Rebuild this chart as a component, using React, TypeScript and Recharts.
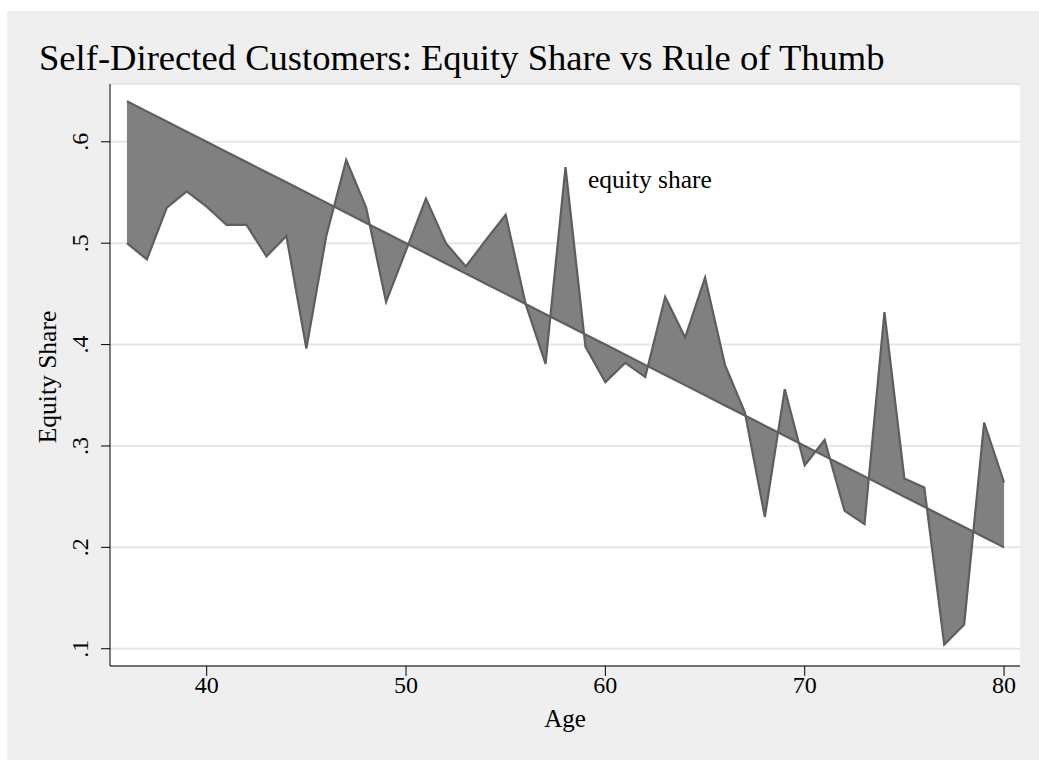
import React from 'react';
import { AreaChart, Area, XAxis, YAxis, CartesianGrid } from 'recharts';

// age grid and the two series
const ages = [36, 37, 38, 39, 40, 41, 42, 43, 44, 45, 46, 47, 48, 49, 50, 51, 52, 53, 54, 55, 56, 57, 58,
  59, 60, 61, 62, 63, 64, 65, 66, 67, 68, 69, 70, 71, 72, 73, 74, 75, 76, 77, 78, 79, 80];

const equityShare = [0.500, 0.484, 0.535, 0.551, 0.536, 0.518, 0.518, 0.487, 0.507, 0.396, 0.507, 0.582,
  0.535, 0.442, 0.493, 0.544, 0.500, 0.477, 0.503, 0.528, 0.440, 0.381, 0.575, 0.398, 0.363, 0.382,
  0.368, 0.447, 0.407, 0.466, 0.380, 0.333, 0.230, 0.356, 0.281, 0.306, 0.236, 0.223, 0.432, 0.268,
  0.259, 0.104, 0.124, 0.323, 0.264];

const ruleOfThumb = [0.64, 0.63, 0.62, 0.61, 0.60, 0.59, 0.58, 0.57, 0.56, 0.55, 0.54, 0.53, 0.52, 0.51,
  0.50, 0.49, 0.48, 0.47, 0.46, 0.45, 0.44, 0.43, 0.42, 0.41, 0.40, 0.39, 0.38, 0.37, 0.36, 0.35, 0.34,
  0.33, 0.32, 0.31, 0.30, 0.29, 0.28, 0.27, 0.26, 0.25, 0.24, 0.23, 0.22, 0.21, 0.20];

const xTicks = [40, 50, 60, 70, 80];
const yTicks = [0.1, 0.2, 0.3, 0.4, 0.5, 0.6];

const data = ages.map((age, i) => ({ age, equity: equityShare[i], rule: ruleOfThumb[i] }));

const FONT = "'Liberation Serif', 'Times New Roman', serif";

const XTick = (props: any) => {
  const { x, y, payload } = props;
  return (
    <text x={x} y={y + 17} textAnchor="middle" fontSize={24} fontFamily={FONT} fill="#000">
      {payload.value}
    </text>
  );
};

const YTick = (props: any) => {
  const { x, y, payload } = props;
  const label = String(payload.value).replace(/^0/, '');
  return (
    <text x={x} y={y} textAnchor="middle" fontSize={24} fontFamily={FONT} fill="#000"
      transform={`rotate(-90, ${x}, ${y})`}>
      {label}
    </text>
  );
};

export default function App() {
  return (
    <div style={{ position: 'absolute', left: 7, top: 11, width: 1032, height: 749, background: '#efefef' }}>
      <AreaChart width={1032} height={749} data={data}
        margin={{ top: 73, right: 19, bottom: 54, left: 43 }}>
        <CartesianGrid vertical={false} stroke="#e6e6e6" strokeWidth={2} fill="#ffffff" />
        <XAxis dataKey="age" type="number" domain={[35.15, 80.8]} ticks={xTicks} allowDataOverflow
          height={40} stroke="#000" tickSize={10} tickMargin={0} tick={<XTick />} />
        <YAxis type="number" domain={[0.083, 0.657]} ticks={yTicks} allowDataOverflow
          width={60} stroke="#000" tickSize={9} tickMargin={13} tick={<YTick />} />
        <Area type="linear" dataKey={(d: any) => [d.rule, d.equity]} fill="#808080" fillOpacity={1}
          stroke="#5e5e5e" strokeWidth={2.2} isAnimationActive={false} dot={false} activeDot={false} />
      </AreaChart>
      <svg width={1032} height={749} style={{ position: 'absolute', left: 0, top: 0, pointerEvents: 'none' }}>
        <text x={32} y={59} fontSize={36.6} fontFamily={FONT} fill="#000">
          Self-Directed Customers: Equity Share vs Rule of Thumb
        </text>
        <text x={581} y={177} fontSize={25.5} fontFamily={FONT} fill="#000">equity share</text>
        <text x={558} y={716} fontSize={25} fontFamily={FONT} fill="#000" textAnchor="middle">Age</text>
        <text x={49} y={366} fontSize={25.5} fontFamily={FONT} fill="#000" textAnchor="middle"
          transform="rotate(-90, 49, 366)">Equity Share</text>
      </svg>
    </div>
  );
}
